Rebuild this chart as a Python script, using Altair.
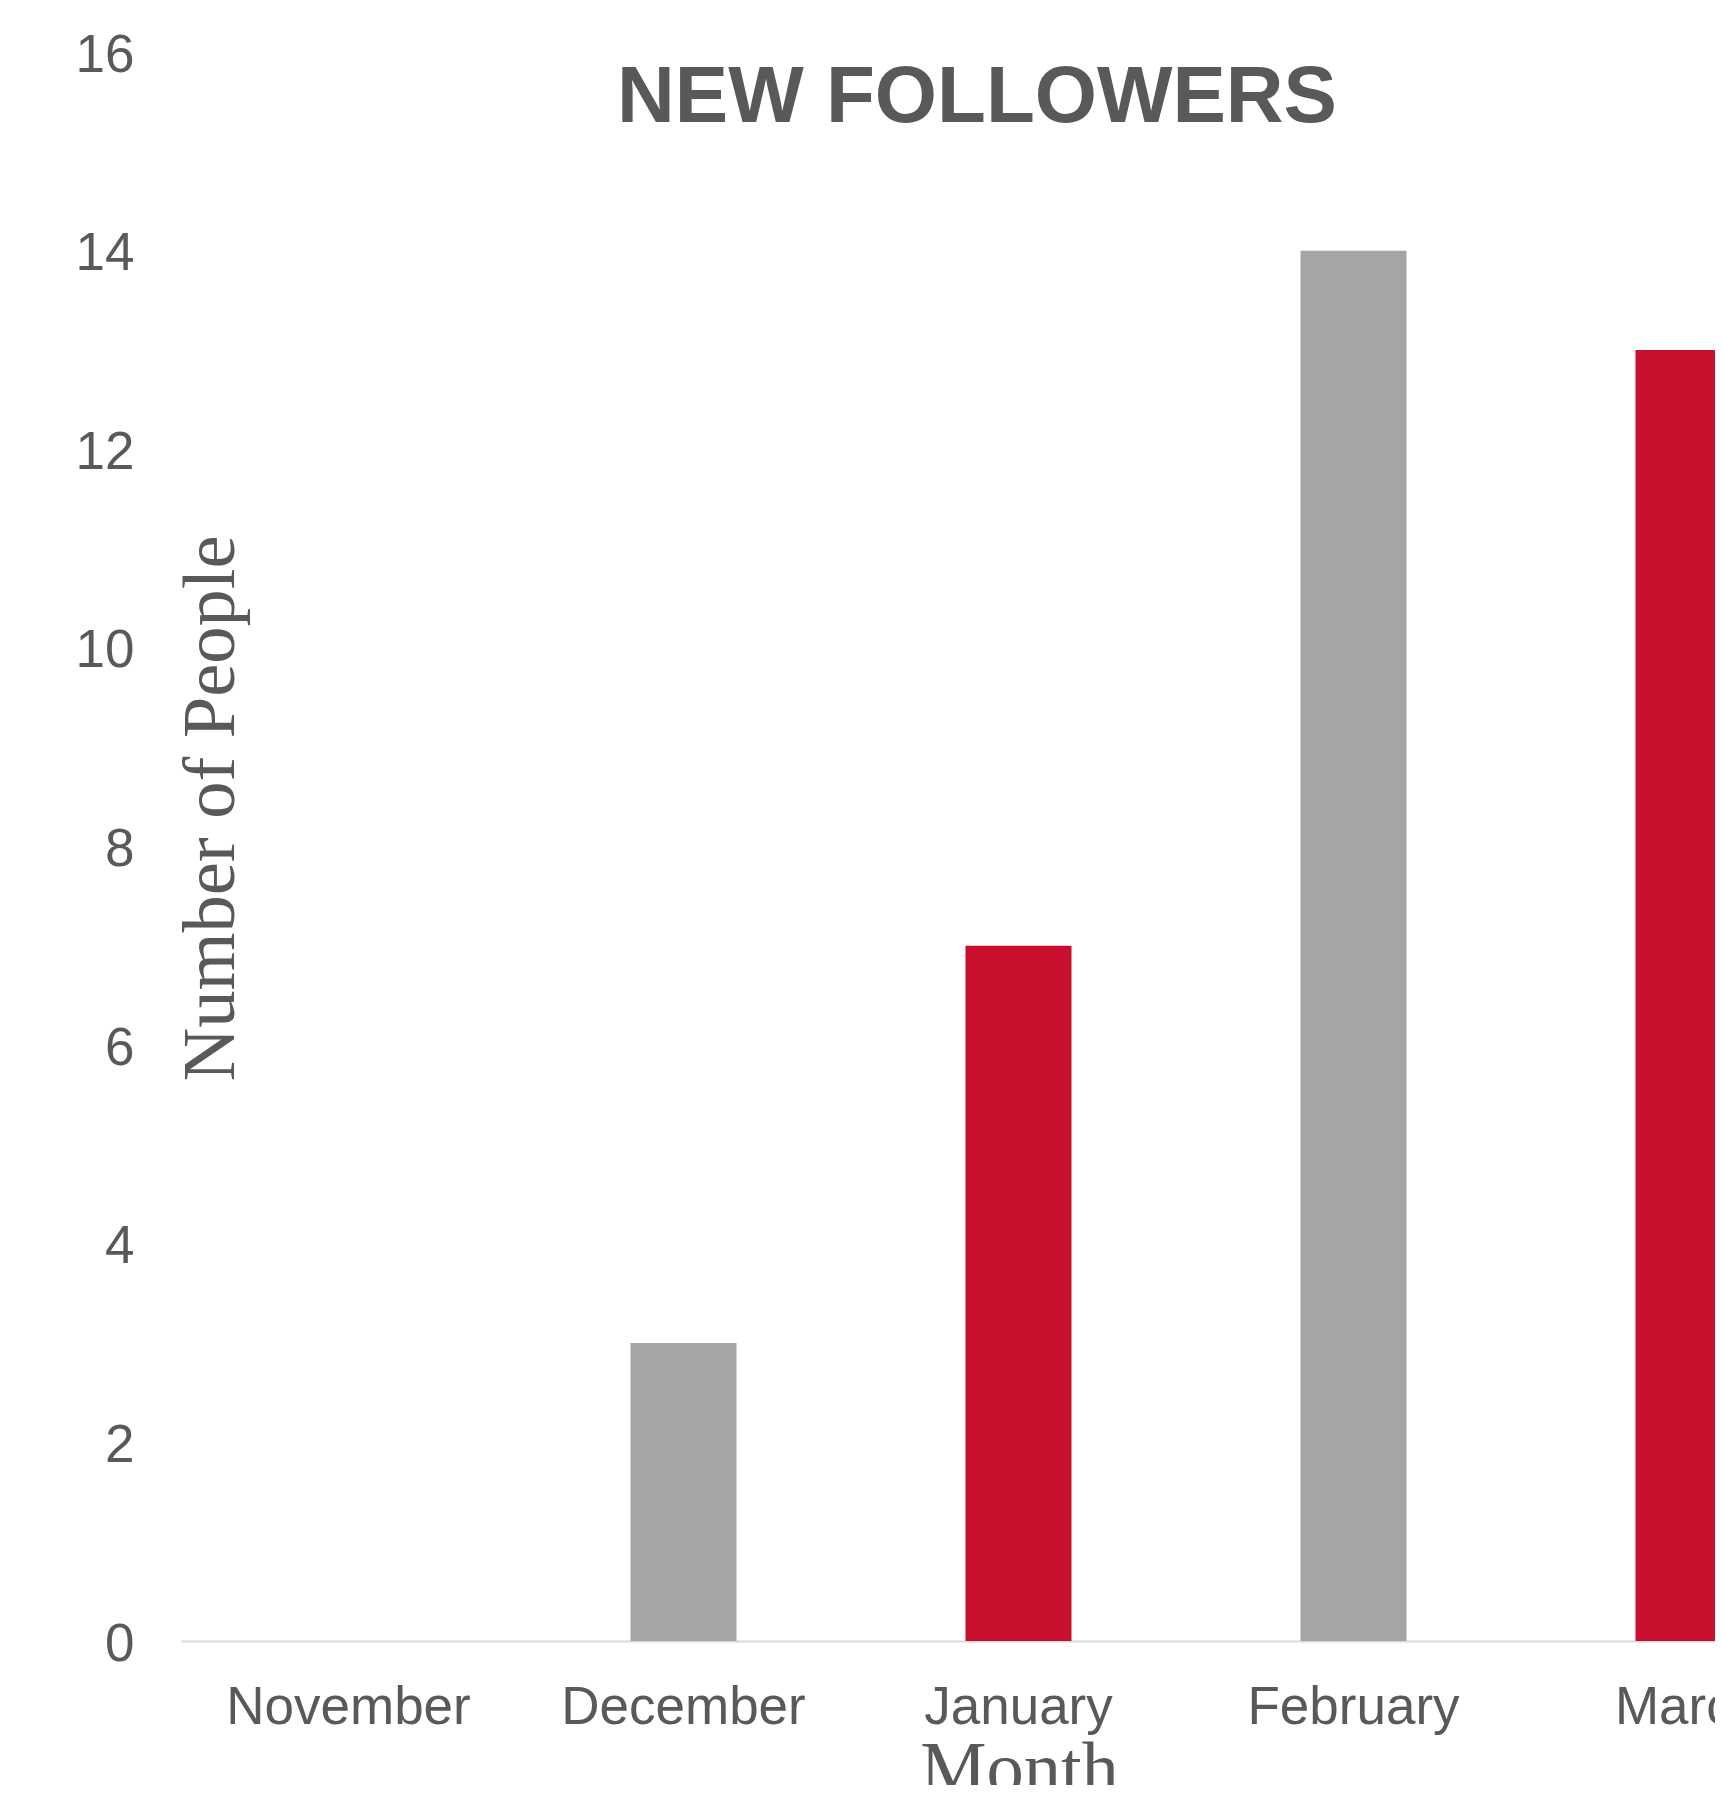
import altair as alt
import pandas as pd

# ---- data ----
months = ["November", "December", "January", "February", "March"]
followers = [0, 3, 7, 14, 13]
bar_colors = ["#C8102E", "#A5A5A5", "#C8102E", "#A5A5A5", "#C8102E"]
y_ticks = [0, 2, 4, 6, 8, 10, 12, 14, 16]

df = pd.DataFrame({"Month": months, "People": followers, "color": bar_colors})

TEXT = "#595959"

bars = alt.Chart(df).mark_bar().encode(
    x=alt.X(
        "Month:N",
        sort=months,
        scale=alt.Scale(range=[0, 1675], paddingInner=0.6836, paddingOuter=0.3418),
        axis=alt.Axis(
            title="Month",
            titleFont="Liberation Serif",
            titleFontSize=74.5,
            titleFontWeight="normal",
            titleColor=TEXT,
            titleAlign="center",
            titleBaseline="alphabetic",
            titleX=838,
            titleY=151,
            labelFont="Liberation Sans",
            labelFontSize=53,
            labelColor=TEXT,
            labelAngle=0,
            labelBaseline="alphabetic",
            labelPadding=82,
            labelOverlap=False,
            labelLimit=0,
            ticks=False,
            tickSize=0,
            domain=True,
            domainColor="#D9D9D9",
            domainWidth=2,
            grid=False,
        ),
    ),
    y=alt.Y(
        "People:Q",
        scale=alt.Scale(domain=[0, 16], nice=False, zero=True),
        axis=alt.Axis(
            values=y_ticks,
            title="Number of People",
            titleFont="Liberation Serif",
            titleFontSize=74.5,
            titleFontWeight="normal",
            titleColor=TEXT,
            titleAngle=270,
            titleAlign="center",
            titleBaseline="alphabetic",
            titleX=52,
            titleY=756,
            labelFont="Liberation Sans",
            labelFontSize=53,
            labelColor=TEXT,
            labelPadding=47,
            labelOffset=3,
            labelFlush=False,
            labelOverlap=False,
            labelLimit=0,
            ticks=False,
            tickSize=0,
            domain=False,
            grid=False,
        ),
    ),
    color=alt.Color("color:N", scale=None, legend=None),
)

chart = bars.properties(
    width=1534,
    height=1589,
    background="white",
    autosize=alt.AutoSizeParams(type="none"),
    padding={"left": 173, "top": 44, "right": 0, "bottom": 144},
    title=alt.TitleParams(
        text="NEW FOLLOWERS",
        font="Liberation Sans",
        fontSize=80,
        fontWeight="bold",
        color=TEXT,
        anchor="start",
        frame="group",
        baseline="alphabetic",
        offset=0,
        dx=771 + 25,
        dy=173,
        align="center",
    ),
).configure_view(strokeWidth=0, stroke="transparent")

chart.save("out.html", embed_options={"renderer": "svg", "actions": False})
